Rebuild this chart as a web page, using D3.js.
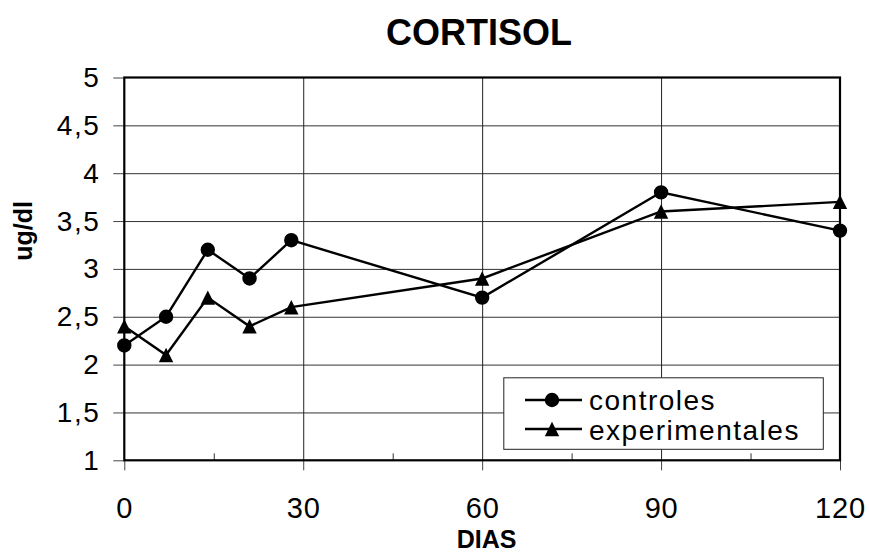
<!DOCTYPE html>
<html><head><meta charset="utf-8">
<script src="https://cdn.jsdelivr.net/npm/d3@7"></script>
<style>body{margin:0;background:#fff} svg{display:block} text{font-family:"Liberation Sans",Arial,sans-serif;fill:#000}</style>
</head><body><svg id="c" width="869" height="554"></svg>
<script>
const days = [0, 7, 14, 21, 28, 60, 90, 120];
const controles = [2.2, 2.5, 3.2, 2.9, 3.3, 2.7, 3.8, 3.4];
const experimentales = [2.4, 2.1, 2.7, 2.4, 2.6, 2.9, 3.6, 3.7];
const seriesNames = ["controles", "experimentales"];
const xMajorTicks = [0, 30, 60, 90, 120];
const xMinorTicks = [15, 45, 75, 105];
const yTicks = [1, 1.5, 2, 2.5, 3, 3.5, 4, 4.5, 5];
const yTickLabels = ["1", "1,5", "2", "2,5", "3", "3,5", "4", "4,5", "5"];
const chartTitle = "CORTISOL", xTitle = "DIAS", yTitle = "ug/dl";

const svg = d3.select("#c");
const L = 124.3, R = 840, T = 77.5, B = 460.3;
const x = d3.scaleLinear().domain([0, 120]).range([L, R]);
const y = d3.scaleLinear().domain([1, 5]).range([B, T]);

// gridlines
const gh = svg.append("g").attr("transform", `translate(${L},0)`)
  .call(d3.axisLeft(y).tickValues(yTicks.slice(1, -1)).tickSize(-(R - L)).tickFormat(""));
gh.select(".domain").remove();
gh.selectAll("line").attr("stroke", "#333").attr("stroke-width", 1);
const gv = svg.append("g").attr("transform", `translate(0,${B})`)
  .call(d3.axisBottom(x).tickValues(xMajorTicks.slice(1, -1)).tickSize(-(B - T)).tickFormat(""));
gv.select(".domain").remove();
gv.selectAll("line").attr("stroke", "#222").attr("stroke-width", 1);

// y axis ticks + labels
const ya = svg.append("g").attr("transform", `translate(${L},0)`)
  .call(d3.axisLeft(y).tickValues(yTicks).tickSize(11).tickPadding(13).tickFormat((d, i) => yTickLabels[i]));
ya.select(".domain").remove();
ya.selectAll("line").attr("stroke", "#444");
ya.selectAll("text").attr("font-size", 28).attr("font-family", "Liberation Sans, Arial, sans-serif")
  .style("letter-spacing", "1.5px").attr("fill", "#000");

// x axis major ticks + labels
const xa = svg.append("g").attr("transform", `translate(0,${B})`)
  .call(d3.axisBottom(x).tickValues(xMajorTicks).tickSize(10).tickFormat(d3.format("d")));
xa.select(".domain").remove();
xa.selectAll("line").attr("stroke", "#444");
xa.selectAll("text").attr("font-size", 29).attr("font-family", "Liberation Sans, Arial, sans-serif")
  .attr("dy", null).attr("y", 58).style("letter-spacing", "0.8px").attr("fill", "#000");

// minor ticks inward
const xm = svg.append("g").attr("transform", `translate(0,${B})`)
  .call(d3.axisTop(x).tickValues(xMinorTicks).tickSize(7).tickFormat(""));
xm.select(".domain").remove();
xm.selectAll("line").attr("stroke", "#333");

// plot border
svg.append("rect").attr("x", L).attr("y", T).attr("width", R - L).attr("height", B - T)
  .attr("fill", "none").attr("stroke", "#000").attr("stroke-width", 2.2);

// series
const line = d3.line().x(d => x(d[0])).y(d => y(d[1]));
const triPath = "M0,-7.2L7.2,7.2L-7.2,7.2Z";
const circ = d3.symbol(d3.symbolCircle, Math.PI * 52)();
[controles, experimentales].forEach((vals, si) => {
  const pts = days.map((d, i) => [d, vals[i]]);
  svg.append("path").datum(pts).attr("d", line).attr("fill", "none")
    .attr("stroke", "#000").attr("stroke-width", 2.4).attr("stroke-linejoin", "miter");
  svg.append("g").selectAll("path").data(pts).join("path")
    .attr("transform", d => `translate(${x(d[0])},${y(d[1])})`)
    .attr("d", si === 0 ? circ : triPath).attr("fill", "#000");
});

// legend
const lg = svg.append("g");
lg.append("rect").attr("x", 503.8).attr("y", 377.8).attr("width", 319.5).attr("height", 71.5)
  .attr("fill", "#fff").attr("stroke", "#222").attr("stroke-width", 1);
seriesNames.forEach((name, i) => {
  const ly = [400, 429][i];
  lg.append("line").attr("x1", 525).attr("x2", 582).attr("y1", ly).attr("y2", ly)
    .attr("stroke", "#000").attr("stroke-width", 2.4);
  lg.append("path").attr("transform", `translate(552,${ly})`)
    .attr("d", i === 0 ? circ : triPath).attr("fill", "#000");
  lg.append("text").attr("x", 589).attr("y", [410, 440][i]).attr("font-size", 28)
    .style("letter-spacing", "1.5px").text(name);
});

// titles
svg.append("text").attr("x", 479).attr("y", 45).attr("text-anchor", "middle")
  .attr("font-size", 36).attr("font-weight", "bold").text(chartTitle);
svg.append("text").attr("x", 486.5).attr("y", 548).attr("text-anchor", "middle")
  .attr("font-size", 25).attr("font-weight", "bold").text(xTitle);
svg.append("text").attr("transform", "translate(32,231) rotate(-90)").attr("text-anchor", "middle")
  .attr("font-size", 25).attr("font-weight", "bold").text(yTitle);
</script></body></html>
